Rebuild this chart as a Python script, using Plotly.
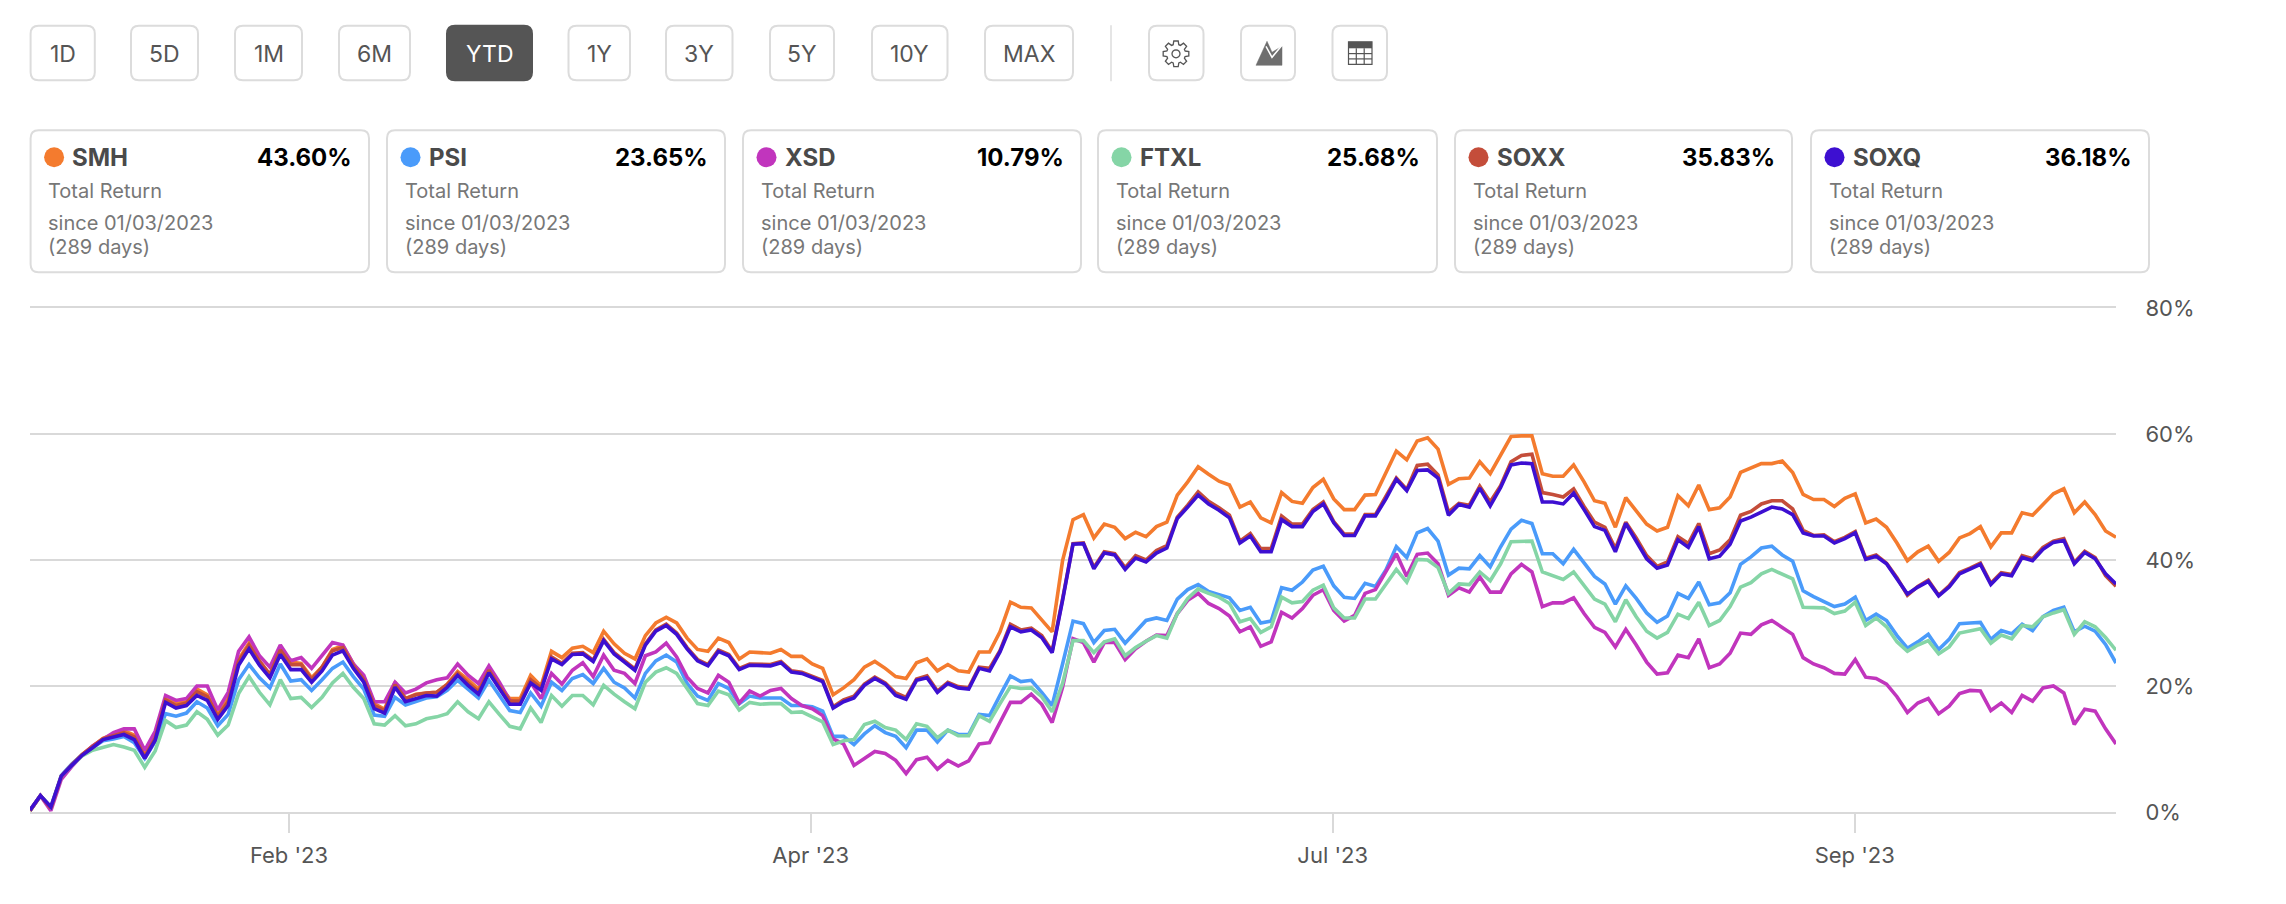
import math
import plotly.graph_objects as go

# ---- data (total return %, one value per trading day) ----
SMH = [0.2,2.6,0.7,5.6,7.4,9.1,10.4,11.7,12.3,12.9,12.2,9,12,18,17.2,17.5,19.5,18.6,15.5,18,24.2,26.8,24,21.8,26,23.8,23.6,21.3,23,25.8,26.4,23.5,21.3,17.2,16.3,20.6,18,18.7,
18.9,19,20.3,22.3,21,19.5,22.8,20,18,18,21.7,20,25.5,24.5,26,26.3,25.3,28.7,26.7,25.2,24.3,28,30,30.9,30,27.6,25.8,25.5,27.6,26.9,24.3,25.4,25.3,25.2,25.8,24.7,24.7,23.5,22.8,18.6,
19.7,21,23,23.9,22.8,21.5,21.2,23.7,24.3,22.4,23.4,22.4,22.2,25.4,25.4,28.6,33.3,32.5,32.4,30.4,28.6,39.9,46.4,47.2,43.5,45.7,45.2,43.4,44.4,43.7,45.3,46,50.3,52.4,54.8,53.6,52.5,51.9,48.4,49.2,
46.7,45.9,50.7,49.3,49,51.5,52.8,49.7,48,48,50.3,50.4,54,57.3,55.9,58.9,59.4,57.6,52,52.9,53,55.6,53.7,56.6,59.6,59.7,59.7,53.7,53.3,53.3,55.1,52.4,49.4,49,45.2,49.9,47.9,45.7,44.6,45.2,50.2,
48.6,51.9,48,48.3,50,53.9,54.6,55.3,55.3,55.7,53.9,50.4,49.6,49.6,48.5,49.8,50.5,45.9,46.5,45.2,42.7,39.9,41.3,42.2,39.8,41.2,43.5,44.2,45.3,42.1,44.3,44.3,47.5,47.1,48.8,50.5,51.3,47.5,49.2,47.2,44.6,43.6]
PSI = [0.2,2.6,0.8,5.8,7.6,9.1,10.2,11.3,11.6,12,11,8.5,11.2,15.6,15.2,15.7,17.5,16.5,13.7,15.5,21,23.4,21.3,19.7,23.5,20.8,21,19.3,21,22.8,23.8,21.5,19.5,15.4,15.2,18.2,17,17.5,
18.1,18.3,19.3,20.9,19.5,18.1,20.9,18.5,16.1,15.8,18.9,16.8,20.6,19.3,21.2,21.8,20.4,22.8,20.6,19.7,18.1,22,24,24.9,23.8,20.4,18.4,17.7,20.4,19.6,17.2,18.4,18.1,18.1,18.1,16.9,16.9,16.7,16,12,
12,10.7,12.4,13.7,12.6,12,10.2,13,13,11.1,13,12.3,12.3,15.5,15.3,18.5,21.6,20.7,20.9,19,16.9,23.5,30.3,29.9,26.9,28.8,29,26.8,28.7,30.4,30.8,30.4,33.8,35.3,36.1,35,34.5,34,32,32.5,
30,30.3,35.6,35.2,36.5,38.4,39,35.9,34.1,33.9,36.3,35.8,38.4,42.1,40.4,44.3,45,43,37.6,38.7,38.6,40.7,38.9,42.1,44.9,46.3,45.8,41,41,39.4,41.7,39.6,37.4,36.2,33,35.9,33.9,31.6,30.1,31.1,34.7,
33.9,36.5,32.9,33.2,34.8,39.3,40.5,41.9,42.2,40.8,39.8,35.1,34.2,33.4,32.6,33,34.1,30.4,31.4,30.4,28,26,27,28.2,25.8,27.4,29.9,30,30.1,27.4,28.8,28.3,29.8,28.8,31,32,32.5,28.6,29.5,28.7,26.6,23.65]
XSD = [0.2,2.6,0.2,5.2,7.2,9,10.5,11.6,12.6,13.2,13.2,9.8,12.8,18.5,17.7,18,20,20,16.2,19,25.5,27.8,24.8,23,26.5,24,24.5,22.8,24.8,26.9,26.5,23.5,21.7,17.5,17.5,20.6,18.9,19.5,
20.5,21,21.3,23.5,21.7,20.4,23.2,20.6,17.7,17.2,20.6,18,22,20.3,22.5,23.7,21.5,24.9,22.5,22,20.4,24.8,25.4,26.8,24.6,21.4,19.6,18.9,21.7,20.6,17.3,19.2,18.4,19.3,19.6,18,16.9,16.4,15.3,11.6,
10.8,7.4,8.5,9.6,9.3,8.2,6.1,8.3,8.7,6.8,8.2,7.3,8.1,10.8,11,14.3,17.4,17.4,18.7,17.1,14.2,19.8,27.5,26.9,23.8,26.9,26.9,24.2,25.9,27.1,28.1,28,31.5,33.6,34.7,33.1,32.3,31.1,28.6,29.4,
26.3,27,31.7,30.8,32.3,34.4,35.3,32,30.3,31.2,34.7,35.3,38.1,41,37.4,40.9,41.1,39.4,34.4,35.6,34.9,37.3,34.9,34.9,37.8,39.3,38.1,32.6,33.2,33.2,34,31.5,29.3,28.5,26.2,29,26.5,23.8,21.9,22.1,24.9,
24.5,27.5,22.9,23.5,25.2,28.4,28.2,29.7,30.4,29.3,28.2,24.5,23.5,22.9,22,21.9,24.2,21.4,21.2,20.3,18.3,15.8,17.3,18,15.6,16.8,18.8,19.3,19.2,16.1,17.3,15.8,18.5,17.6,19.7,20,18.9,13.9,16.3,16,13.2,10.79]
FTXL = [0.2,2.6,0.8,5.7,7.4,8.9,9.8,10.3,10.7,10.3,9.8,7.1,9.7,14.5,13.4,13.8,15.9,14.7,12.2,13.8,18.8,21.5,19,17,21,18,18.2,16.6,18.2,20.5,22,19.8,18,14,13.8,15.3,13.7,14,
14.8,15.1,15.6,17.5,15.9,14.8,17.5,15.5,13.6,13.2,16.5,14.2,18.5,16.8,18.5,18.5,17,20.1,18.7,17.5,16.4,20.6,22.2,22.9,22,19.6,17.2,16.9,19.2,18.6,16.2,17.4,17.1,17.2,17.2,15.8,15.9,15.1,14.3,10.7,
11.3,11.5,13.9,14.4,13.4,13,11.5,14,13.6,11.8,13,12.1,12.1,15.3,14.4,17.2,19.9,19.6,19.7,18.3,15.9,20.4,27.2,27.2,25.3,27,27.5,24.8,26.1,27.1,28,27.6,31.5,33.9,35.4,34.7,34.1,33.1,30.2,30.7,
28.5,29.4,34.1,33.2,33.4,35.2,36,32.4,30.8,30.8,33.8,33.8,36.1,38.5,36.5,40.1,40,38.8,34.7,36.2,36.1,38.1,36.7,39.4,42.9,43,43,38.1,37.5,36.9,38.1,35.9,33.8,33,30.2,33.7,31,28.7,27.6,28.5,31.4,
30.7,33.3,29.6,30.4,32.6,35.7,36.4,37.8,38.5,37.7,37,32.5,32.4,32.4,31.5,31.9,33.3,29.6,30.8,29.4,27,25.5,26.5,27.2,25.1,26.2,28.4,28.7,29.1,26.8,28.1,27.5,29.6,29.4,31,31.6,32.1,28.2,30.2,29.4,27.7,25.68]
SOXX = [0.2,2.6,0.6,5.7,7.5,9.1,10.4,11.6,12.1,12.6,11.9,8.8,11.7,17.8,16.9,17.3,19.1,18.3,15.2,17.5,23.9,26.5,23.9,21.8,25.7,23.4,23.4,21,23,25.6,26.1,23.2,21,16.9,16.1,20.2,18,18.6,
18.9,19,20.2,22,20.5,19.1,22.5,19.9,17.6,17.6,21,19.7,24.6,23.6,25.2,25.3,24.1,27.4,25.3,24,22.7,26.7,28.9,29.8,28.4,26.1,24.2,23.4,25.7,25,22.8,23.5,23.5,23.4,23.9,22.4,22.2,21.5,20.9,16.7,
17.8,18.4,20.3,21.4,20.5,18.9,18.2,21.1,21.6,19.2,20.6,19.9,19.7,23,22.8,25.6,29.8,28.9,29.2,28,25.5,33.8,42.6,42.7,38.8,41.3,41,38.8,40.7,40,41.5,42.3,46.8,48.7,50.8,49.3,48.3,47.1,43,44.2,
41.8,41.8,47,45.7,45.7,48,49.2,46.1,44.1,44.1,47.2,47.2,50,53,51.2,55,55.2,53.5,47.6,49,48.7,51.7,49.2,51.8,55.6,56.6,56.8,50.7,50.4,50,51.3,48.5,46,45.2,41.8,46,43.5,40.7,39,39.7,43.7,
42.6,45.8,41,41.6,43.2,47.1,47.7,48.9,49.4,49.4,48.1,44.7,43.9,44,42.9,43.6,44.5,40.3,40.8,39.5,37.2,34.4,35.8,36.8,34.4,35.9,38,38.7,39.5,36.3,38,37.7,40.7,40.2,42,43,43.4,39.6,41.4,40.4,37.5,35.83]
SOXQ = [0.3,2.6,0.8,5.7,7.4,9,10.2,11.5,11.9,12.3,11.5,8.5,11.4,17.4,16.5,16.9,18.5,17.7,14.7,16.9,23.3,25.9,23.3,21.3,25,22.6,22.6,20.6,22.4,24.9,25.6,22.8,20.6,16.4,15.7,19.8,17.5,18,
18.5,18.4,19.8,21.7,20.1,18.7,22.1,19.6,17.1,17.1,20.5,19.3,24.3,23.4,25,25.1,23.9,27.2,25.1,23.8,22.5,26.5,28.7,29.6,28.2,25.9,24,23.2,25.5,24.8,22.6,23.3,23.3,23.2,23.7,22.2,22,21.3,20.7,16.5,
17.5,18.1,20.1,21.2,20.3,18.5,17.9,20.9,21.3,19,20.4,19.7,19.5,22.8,22.4,25.4,29.4,28.6,28.9,27.7,25.3,33.6,42.5,42.6,38.6,41.1,40.8,38.5,40.3,39.7,41.1,41.9,46.6,48.4,50.3,48.9,47.9,46.7,42.7,43.8,
41.3,41.3,46.4,45.3,45.3,47.7,48.9,45.9,43.9,43.9,47,47,49.7,52.8,51,54.2,54.3,53,47.1,48.8,48.4,51.4,48.6,51.5,55.1,55.4,55.3,49.2,49.2,48.9,50.6,48,45.3,44.7,41.3,45.8,43.1,40.2,38.7,39.2,43.2,
42,45.3,40.2,40.6,42.5,46.2,46.8,47.6,48.4,48.1,47.2,44.3,43.8,43.8,42.7,43.4,44.3,40.1,40.6,39.4,37.1,34.6,35.7,36.6,34.3,35.7,37.8,38.5,39.3,36.1,37.8,37.5,40.4,39.9,41.7,42.8,43.1,39.4,41.2,40.2,37.8,36.18]

series_names = ["SMH", "PSI", "XSD", "FTXL", "SOXX", "SOXQ"]
series_values = [SMH, PSI, XSD, FTXL, SOXX, SOXQ]
series_colors = ["#F47B2E", "#4A9BFA", "#C135BD", "#85D5A6", "#C44D3A", "#3D0FD1"]
final_returns = ["43.60%", "23.65%", "10.79%", "25.68%", "35.83%", "36.18%"]

x_tick_positions = [24.83, 74.85, 124.9, 174.95]
x_tick_labels = ["Feb '23", "Apr '23", "Jul '23", "Sep '23"]
y_tick_values = [0, 20, 40, 60, 80]
y_tick_labels = ["0%", "20%", "40%", "60%", "80%"]
period_buttons = ["1D", "5D", "1M", "6M", "YTD", "1Y", "3Y", "5Y", "10Y", "MAX"]
active_button = "YTD"

# ---- page geometry (pixels) ----
W, H = 2286, 904
L, R, T, B = 30, 2116, 307.7, 811.7
FONT = "Inter, 'Liberation Sans', sans-serif"
GREY = "#555555"
BORDER = "#DCDCDC"
GRID = "#D9D9D9"


def fx(x):
    return (x - L) / (R - L)


def fy(y):
    return (B - y) / (B - T)


def rrect(x0, y0, x1, y1, r):
    p = [("M", x0 + r, y0), ("L", x1 - r, y0), ("Q", x1, y0, x1, y0 + r), ("L", x1, y1 - r),
         ("Q", x1, y1, x1 - r, y1), ("L", x0 + r, y1), ("Q", x0, y1, x0, y1 - r), ("L", x0, y0 + r),
         ("Q", x0, y0, x0 + r, y0)]
    out = []
    for seg in p:
        coords = seg[1:]
        pts = [f"{fx(coords[i]):.6f} {fy(coords[i + 1]):.6f}" for i in range(0, len(coords), 2)]
        out.append(seg[0] + " " + " ".join(pts))
    return " ".join(out) + " Z"


def poly(points):
    return "M " + " L ".join(f"{fx(a):.6f} {fy(b):.6f}" for a, b in points) + " Z"


shapes = []
annotations = []


def box(x0, y0, x1, y1, r=8, line=BORDER, fill="#FFFFFF", width=2):
    shapes.append(dict(type="path", xref="paper", yref="paper", path=rrect(x0, y0, x1, y1, r),
                       line=dict(color=line, width=width), fillcolor=fill, layer="above"))


def text(x, y, s, size, color, anchor="left", bold=False):
    annotations.append(dict(xref="paper", yref="paper", x=fx(x), y=fy(y), text=f"<b>{s}</b>" if bold else s,
                            showarrow=False, xanchor=anchor, yanchor="middle",
                            font=dict(family=FONT, size=size, color=color), borderpad=0, borderwidth=0))


# period buttons
button_edges = [(30.6, 94.8), (131, 198), (235, 302), (339, 410), (447, 532),
                (568.5, 630), (666, 732.5), (770, 834), (872, 947.5), (985, 1073)]
for name, (a, b) in zip(period_buttons, button_edges):
    on = name == active_button
    box(a, 25.5, b, 80, line="#555555" if on else BORDER, fill="#555555" if on else "#FFFFFF")
    text((a + b) / 2, 53.5, name, 23, "#FFFFFF" if on else GREY, "center")

# divider
shapes.append(dict(type="line", xref="paper", yref="paper", x0=fx(1111), x1=fx(1111), y0=fy(25), y1=fy(81),
                   line=dict(color=BORDER, width=1.5), layer="above"))

# icon buttons
for a, b in [(1149, 1203.5), (1241, 1295), (1332.5, 1387)]:
    box(a, 25.5, b, 80)

# gear icon
cx, cy = 1176, 53.5
gear = []
for k in range(8):
    base = k * math.pi / 4
    for off, rad in [(-0.30, 9.5), (-0.17, 13), (0.17, 13), (0.30, 9.5)]:
        gear.append((cx + rad * math.cos(base + off), cy + rad * math.sin(base + off)))
shapes.append(dict(type="path", xref="paper", yref="paper", path=poly(gear),
                   line=dict(color=GREY, width=1.3), fillcolor="#FFFFFF", layer="above"))
shapes.append(dict(type="path", xref="paper", yref="paper",
                   path=poly([(cx + 4 * math.cos(t * math.pi / 8), cy + 4 * math.sin(t * math.pi / 8)) for t in range(16)]),
                   line=dict(color=GREY, width=1.3), fillcolor="#FFFFFF", layer="above"))

# area-chart icon
shapes.append(dict(type="path", xref="paper", yref="paper",
                   path=poly([(1256, 65), (1267, 41), (1272, 52), (1282, 46), (1282, 65)]),
                   line=dict(color="#6E6E6E", width=0.5), fillcolor="#6E6E6E", layer="above"))
shapes.append(dict(type="path", xref="paper", yref="paper",
                   path="M " + " L ".join(f"{fx(a):.6f} {fy(b):.6f}" for a, b in [(1266, 46), (1272, 57), (1282, 45)]),
                   line=dict(color="#FFFFFF", width=1.5), layer="above"))

# table icon
shapes.append(dict(type="rect", xref="paper", yref="paper", x0=fx(1348.5), x1=fx(1372), y0=fy(64), y1=fy(41.5),
                   line=dict(color=GREY, width=1.2), fillcolor="#FFFFFF", layer="above"))
shapes.append(dict(type="rect", xref="paper", yref="paper", x0=fx(1348.5), x1=fx(1372), y0=fy(48), y1=fy(41.5),
                   line=dict(color=GREY, width=0), fillcolor=GREY, layer="above"))
for vx in (1356.3, 1364.2):
    shapes.append(dict(type="line", xref="paper", yref="paper", x0=fx(vx), x1=fx(vx), y0=fy(48), y1=fy(64),
                       line=dict(color=GREY, width=1.2), layer="above"))
for hy in (53.3, 58.6):
    shapes.append(dict(type="line", xref="paper", yref="paper", x0=fx(1348.5), x1=fx(1372), y0=fy(hy), y1=fy(hy),
                       line=dict(color=GREY, width=1.2), layer="above"))

# return cards
card_edges = [(30.6, 369), (387, 725), (743, 1081), (1098, 1437), (1455, 1792), (1811, 2149)]
for name, color, ret, (a, b) in zip(series_names, series_colors, final_returns, card_edges):
    box(a, 130, b, 272)
    shapes.append(dict(type="circle", xref="paper", yref="paper", x0=fx(a + 13.5), x1=fx(a + 33.5),
                       y0=fy(167), y1=fy(147), line=dict(width=0), fillcolor=color, layer="above"))
    text(a + 41.5, 157.5, name, 24, "#4A4A4A", bold=True)
    text(b - 17, 157.5, ret, 24, "#000000", "right", bold=True)
    text(a + 17.5, 191, "Total Return", 20, "#777777")
    text(a + 17.5, 223, "since 01/03/2023", 20, "#777777")
    text(a + 17.5, 247, "(289 days)", 20, "#777777")

fig = go.Figure()
for name, values, color in zip(series_names, series_values, series_colors):
    fig.add_trace(go.Scatter(x=list(range(len(values))), y=values, mode="lines", name=name,
                             line=dict(color=color, width=3.6), hoverinfo="x+y"))

fig.update_layout(
    width=W, height=H, autosize=False, showlegend=False,
    paper_bgcolor="#FFFFFF", plot_bgcolor="#FFFFFF",
    margin=dict(l=L, r=W - R, t=T, b=H - B, pad=0),
    font=dict(family=FONT, color=GREY, size=22),
    shapes=shapes, annotations=annotations,
    xaxis=dict(range=[0, 200], tickmode="array", tickvals=x_tick_positions, ticktext=x_tick_labels,
               ticks="outside", ticklen=19, tickwidth=2, tickcolor=GRID, showgrid=False, ticklabelstandoff=4,
               zeroline=False, showline=True, mirror=True, linecolor=GRID, linewidth=2,
               tickfont=dict(family=FONT, size=22, color=GREY)),
    yaxis=dict(range=[0, 80], side="right", tickmode="array", tickvals=y_tick_values, ticktext=y_tick_labels,
               showgrid=True, gridcolor=GRID, gridwidth=2, zeroline=False, showline=False,
               ticks="outside", ticklen=24, tickcolor="rgba(0,0,0,0)",
               tickfont=dict(family=FONT, size=22, color=GREY)),
)
print([len(v) for v in series_values])
fig.write_html("out.html", config={"displayModeBar": False},
               post_script="document.body.style.margin='0';document.documentElement.style.overflow='hidden';")
